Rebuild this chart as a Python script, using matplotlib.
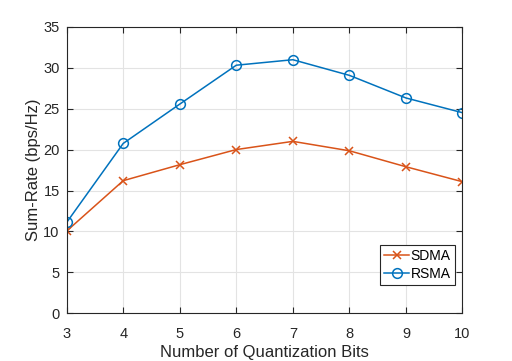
import matplotlib
matplotlib.use("Agg")
import matplotlib.pyplot as plt

bits = [3, 4, 5, 6, 7, 8, 9, 10]
sdma = [10.05, 16.2, 18.15, 20.0, 21.0, 19.85, 17.9, 16.07]
rsma = [11.1, 20.75, 25.55, 30.3, 30.97, 29.06, 26.3, 24.5]
xticks = [3, 4, 5, 6, 7, 8, 9, 10]
yticks = [0, 5, 10, 15, 20, 25, 30, 35]

plt.rcParams['font.family'] = ['Liberation Sans', 'DejaVu Sans']
axc = '#262626'

fig = plt.figure(figsize=(5.12, 3.61), dpi=100)
ax = fig.add_axes([0.1302, 0.132, 0.7731, 0.794])
ax.plot(bits, sdma, color='#D95319', marker='x', markersize=6, linewidth=1.1,
        markeredgewidth=1.1, label='SDMA')
ax.plot(bits, rsma, color='#0072BD', marker='o', markersize=7, linewidth=1.1,
        markerfacecolor='none', markeredgewidth=1.1, label='RSMA')
ax.set_xlim(3, 10)
ax.set_ylim(0, 35)
ax.set_xticks(xticks)
ax.set_yticks(yticks)
ax.grid(True, color='#e3e3e3', linewidth=0.8)
ax.set_axisbelow(True)
for s in ax.spines.values():
    s.set_color(axc)
    s.set_linewidth(0.8)
ax.tick_params(direction='in', top=True, right=True, colors=axc, labelsize=10.5,
               length=4, width=0.8)
ax.tick_params(axis='x', pad=10)
ax.tick_params(axis='y', pad=5)
ax.set_xlabel('Number of Quantization Bits', fontsize=12, color=axc, labelpad=3)
ax.set_ylabel('Sum-Rate (bps/Hz)', fontsize=12, color=axc, labelpad=2)
leg = ax.legend(loc='lower right', bbox_to_anchor=(0.98, 0.1), fontsize=10,
                fancybox=False, framealpha=1, edgecolor=axc, handlelength=1.8,
                handletextpad=0.1, borderpad=0.3, labelspacing=0.25, borderaxespad=0)
leg.get_frame().set_linewidth(0.8)
fig.savefig('out.png', dpi=100)
